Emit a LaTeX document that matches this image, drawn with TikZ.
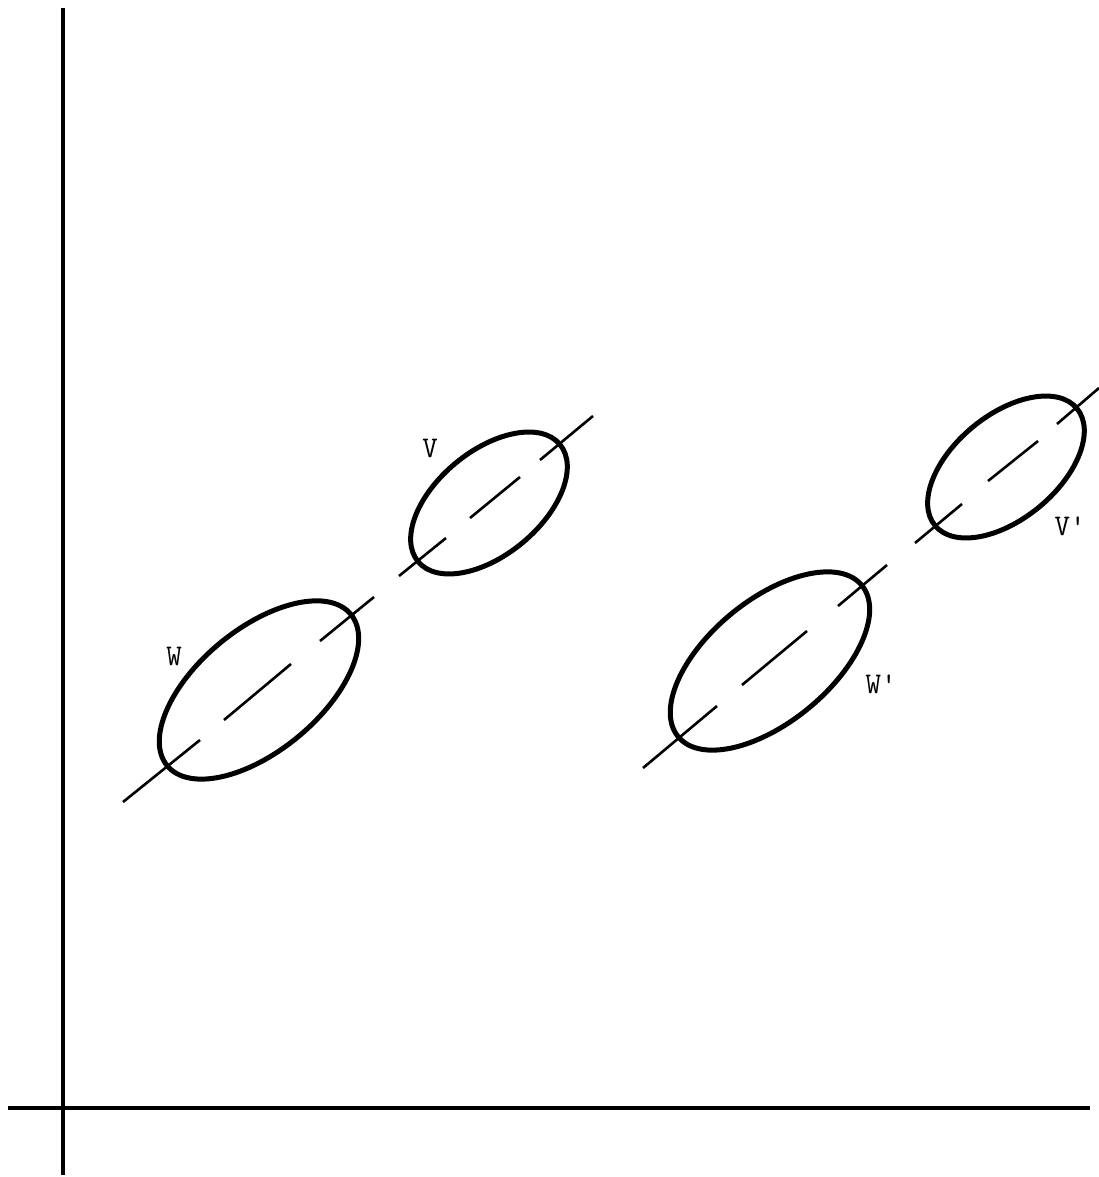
\documentclass[tikz,border=0pt]{standalone}
\begin{document}
\begin{tikzpicture}[x=1pt,y=-1pt,
  axisline/.style={line width=4.2pt},
  blob/.style={line width=5pt},
  dashseg/.style={line width=2.6pt},
  lbl/.style={font=\ttfamily\fontsize{30}{30}\selectfont, inner sep=0pt}]
\useasboundingbox (0,0) rectangle (1099,1177);
% axes
\coordinate (ytop) at (63,8);
\coordinate (ybot) at (63,1175);
\coordinate (xl) at (8,1108);
\coordinate (xr) at (1090,1108);
\draw[axisline] (ytop) -- (ybot);
\draw[axisline] (xl) -- (xr);
% ellipse centres
\coordinate (cW) at (259,690);
\coordinate (cV) at (489,503);
\coordinate (cWp) at (770,661);
\coordinate (cVp) at (1006,467);
\draw[blob, rotate around={39.5:(cW)}] (cW) ellipse [x radius=119, y radius=61];
\draw[blob, rotate around={39.5:(cV)}] (cV) ellipse [x radius=92, y radius=52];
\draw[blob, rotate around={39.5:(cWp)}] (cWp) ellipse [x radius=119, y radius=61];
\draw[blob, rotate around={39.5:(cVp)}] (cVp) ellipse [x radius=92, y radius=52];
% dashed axes through the ellipses
\draw[dashseg] (123,802) -- (200,740);
\draw[dashseg] (224,720) -- (291,664);
\draw[dashseg] (320,641) -- (374,597);
\draw[dashseg] (399,576) -- (446,538);
\draw[dashseg] (470,518) -- (520,477);
\draw[dashseg] (540,460) -- (593,416);
\draw[dashseg] (643,768) -- (717,706);
\draw[dashseg] (742,685) -- (807,631);
\draw[dashseg] (838,606) -- (887,565);
\draw[dashseg] (915,543) -- (962,504);
\draw[dashseg] (988,481) -- (1038,441);
\draw[dashseg] (1057,424) -- (1099,388);
% labels
\node[lbl] (lW) at (174,656) {W};
\node[lbl] (lV) at (430,448) {V};
\node[lbl] (lWp) at (881,684) {W'};
\node[lbl] (lVp) at (1070,526) {V'};
\end{tikzpicture}
\end{document}
